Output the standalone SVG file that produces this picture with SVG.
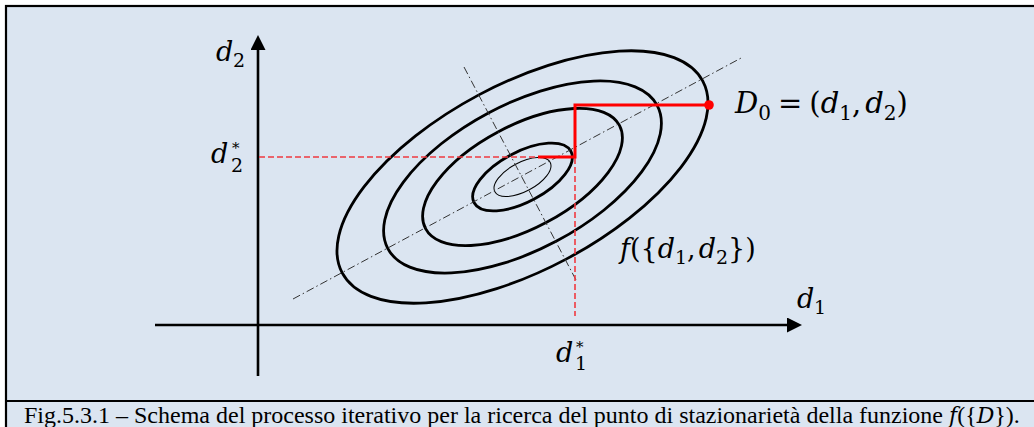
<svg xmlns="http://www.w3.org/2000/svg" width="1034" height="427" viewBox="0 0 1034 427">
<style>
.ax{stroke:#000;stroke-width:2.6;fill:none}
.el{stroke:#000;stroke-width:2.8;fill:none}
.thin{stroke:#000;stroke-width:1;fill:none}
.dd{stroke:#333;stroke-width:1;fill:none;stroke-dasharray:8 3 1.5 3}
.rd{stroke:#f03a40;stroke-width:1.6;fill:none;stroke-dasharray:6 3}
.rs{stroke:#ff0000;stroke-width:3;fill:none}
.m{font-family:"DejaVu Serif",serif;font-style:italic;font-size:27px;fill:#000}
.u{font-style:normal}
.s{font-style:normal;font-size:19px}
.st{font-style:normal;font-size:15px}
.cap{font-family:"Liberation Serif","Times New Roman",serif;font-size:24px;fill:#000}
</style>
<defs>
<marker id="arr" viewBox="0 0 15 15" markerWidth="15" markerHeight="15" markerUnits="userSpaceOnUse" refX="1" refY="7.5" orient="auto">
<path d="M0,0 L15,7.5 L0,15 z" fill="#000"/>
</marker>
</defs>
<rect x="0" y="0" width="1034" height="427" fill="#ffffff"/>
<rect x="6" y="6" width="1040" height="440" fill="#dbe5f1" stroke="#000" stroke-width="2.2"/>
<line x1="6" y1="401" x2="1034" y2="401" stroke="#000" stroke-width="2.2"/>

<g id="contours">
<g transform="translate(522.5 177) rotate(-28)">
<ellipse cx="0" cy="0" rx="31.3" ry="14.5" class="thin"/>
<ellipse cx="0" cy="0" rx="54.8" ry="25" class="el"/>
<ellipse cx="0" cy="0" rx="109.8" ry="51.3" class="el"/>
<ellipse cx="0" cy="0" rx="152.5" ry="72.6" class="el"/>
<ellipse cx="0" cy="0" rx="204.2" ry="93" class="el"/>
</g>
</g>

<g id="axes-lines">
<line x1="293" y1="299" x2="743" y2="57" class="dd"/>
<line x1="464" y1="67" x2="576" y2="280" class="dd"/>
</g>

<g id="connectors">
<line x1="258" y1="376" x2="258" y2="49" class="ax" marker-end="url(#arr)"/>
<line x1="155" y1="325" x2="788" y2="325" class="ax" marker-end="url(#arr)"/>
<line x1="259" y1="157" x2="538" y2="157" class="rd"/>
<line x1="575" y1="158" x2="575" y2="316" class="rd"/>
<path d="M538,157 H575 V105 H709" class="rs"/>
<circle cx="709" cy="105" r="4.8" fill="#ff0000"/>
</g>

<g id="label-d2">
<text x="216" y="61" class="m">d<tspan class="s" x="233" y="67">2</tspan></text>
</g>
<g id="label-d2star">
<text x="211" y="163" class="m">d<tspan class="st" x="232" y="153">*</tspan><tspan class="s" x="231" y="172">2</tspan></text>
</g>
<g id="label-d1">
<text x="797" y="308" class="m">d<tspan class="s" x="814" y="314">1</tspan></text>
</g>
<g id="label-d1star">
<text x="556" y="362" class="m">d<tspan class="st" x="576" y="352">*</tspan><tspan class="s" x="575" y="370">1</tspan></text>
</g>
<g id="label-f">
<text x="620" y="258" class="m">f<tspan class="u">({</tspan>d<tspan class="s" dy="6">1</tspan><tspan class="u" dy="-6">,</tspan><tspan dx="3">d</tspan><tspan class="s" dy="6">2</tspan><tspan class="u" dy="-6">})</tspan></text>
</g>
<g id="label-D0">
<text x="735" y="113" class="m" style="font-size:29px">D<tspan class="u" style="font-size:20px" dy="7">0</tspan><tspan class="u" dy="-7" dx="7">=</tspan><tspan class="u" dx="7">(</tspan>d<tspan class="u" style="font-size:20px" dy="7">1</tspan><tspan class="u" dy="-7">,</tspan><tspan dx="4">d</tspan><tspan class="u" style="font-size:20px" dy="7">2</tspan><tspan class="u" dy="-7">)</tspan></text>
</g>

<g id="caption">
<text x="24" y="423" class="cap">Fig.5.3.1 – Schema del processo iterativo per la ricerca del punto di stazionarietà della funzione <tspan style="font-family:'DejaVu Serif',serif;font-style:italic;font-size:22px">f</tspan>({<tspan style="font-family:'DejaVu Serif',serif;font-style:italic;font-size:22px">D</tspan>}).</text>
</g>
</svg>
